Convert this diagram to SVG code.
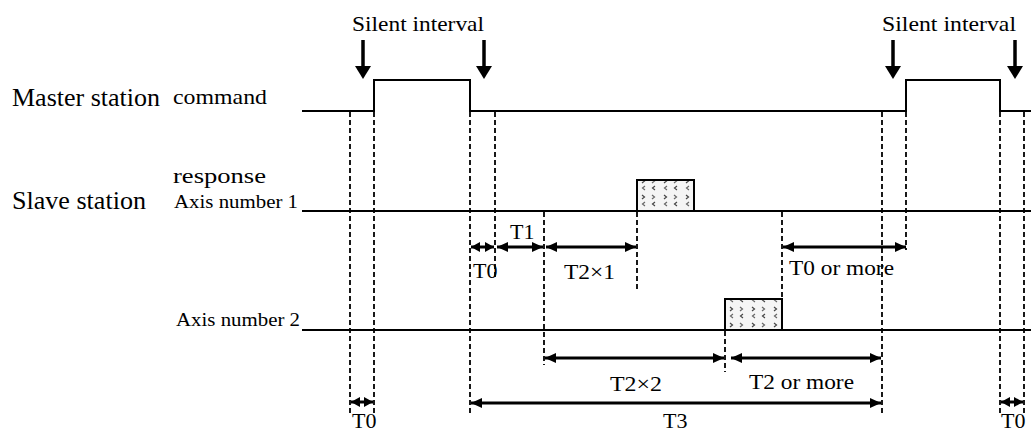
<svg xmlns="http://www.w3.org/2000/svg" width="1031" height="433" viewBox="0 0 1031 433">
<style>
  text { font-family: "Liberation Serif", "Times New Roman", serif; fill: #000; }
  .big { font-size: 25px; }
  .mid { font-size: 22px; }
  .ax { font-size: 19px; }
  .lbl { font-size: 22px; }
  .sig { stroke: #000; stroke-width: 2; fill: none; }
  .dash { stroke: #000; stroke-width: 1.8; stroke-dasharray: 5 3; fill: none; }
  .dim { stroke: #000; stroke-width: 3; fill: none; marker-start: url(#ah); marker-end: url(#ah); }
  .dims { stroke: #000; stroke-width: 3; fill: none; marker-start: url(#ahs); marker-end: url(#ahs); }
  .down { stroke: #000; stroke-width: 3.5; fill: none; }
</style>
<defs>
  <marker id="ah" markerUnits="userSpaceOnUse" markerWidth="11" markerHeight="10" refX="11" refY="5" orient="auto-start-reverse">
    <path d="M0,0 L11,5 L0,10 z" fill="#000"/>
  </marker>
  <marker id="ahs" markerUnits="userSpaceOnUse" markerWidth="9" markerHeight="10" refX="9" refY="5" orient="auto-start-reverse">
    <path d="M0,0 L9,5 L0,10 z" fill="#000"/>
  </marker>
  <pattern id="dots" patternUnits="userSpaceOnUse" width="22" height="16">
    <rect width="22" height="16" fill="#f5f5f5"/>
    <path d="M4,3 l2.5,2 l-2.5,2" stroke="#444" stroke-width="1.2" fill="none"/>
    <path d="M17,10 l-2.5,2 l2.5,2" stroke="#444" stroke-width="1.2" fill="none"/>
    <path d="M14,3 l2.5,2 l-2.5,2" stroke="#666" stroke-width="1.2" fill="none"/>
    <path d="M7,10 l-2.5,2 l2.5,2" stroke="#666" stroke-width="1.2" fill="none"/>
  </pattern>
</defs>

<g id="labels">
  <text class="big" x="12" y="106" textLength="148" lengthAdjust="spacingAndGlyphs">Master station</text>
  <text class="mid" x="173" y="104" textLength="94" lengthAdjust="spacingAndGlyphs">command</text>
  <text class="mid" x="173" y="183" textLength="93" lengthAdjust="spacingAndGlyphs">response</text>
  <text class="big" x="12" y="209" textLength="134" lengthAdjust="spacingAndGlyphs">Slave station</text>
  <text class="ax" x="174" y="208" textLength="124" lengthAdjust="spacingAndGlyphs">Axis number 1</text>
  <text class="ax" x="176" y="326" textLength="124" lengthAdjust="spacingAndGlyphs">Axis number 2</text>
</g>

<g id="silent-1">
  <text class="mid" x="352" y="31" textLength="132" lengthAdjust="spacingAndGlyphs">Silent interval</text>
  <line class="down" x1="363" y1="40" x2="363" y2="68"/>
  <path d="M355,66 L371,66 L363,79 z" fill="#000"/>
  <line class="down" x1="484" y1="40" x2="484" y2="68"/>
  <path d="M476,66 L492,66 L484,79 z" fill="#000"/>
</g>
<g id="silent-2">
  <text class="mid" x="882" y="31" textLength="134" lengthAdjust="spacingAndGlyphs">Silent interval</text>
  <line class="down" x1="893" y1="40" x2="893" y2="68"/>
  <path d="M885,66 L901,66 L893,79 z" fill="#000"/>
  <line class="down" x1="1015" y1="40" x2="1015" y2="68"/>
  <path d="M1007,66 L1023,66 L1015,79 z" fill="#000"/>
</g>

<g id="master-signal">
  <path class="sig" d="M302,111 H374 V80 H470 V111 H906 V80 H1000 V111 H1031"/>
</g>
<g id="axis1-signal">
  <line class="sig" x1="302" y1="211" x2="1031" y2="211"/>
  <rect x="637" y="180" width="57" height="31" fill="url(#dots)" stroke="#000" stroke-width="2"/>
</g>
<g id="axis2-signal">
  <line class="sig" x1="302" y1="330" x2="1031" y2="330"/>
  <rect x="725" y="299" width="57" height="31" fill="url(#dots)" stroke="#000" stroke-width="2"/>
</g>

<g id="guides">
  <line class="dash" x1="350" y1="112" x2="350" y2="413"/>
  <line class="dash" x1="374" y1="112" x2="374" y2="413"/>
  <line class="dash" x1="470" y1="112" x2="470" y2="414"/>
  <line class="dash" x1="495" y1="112" x2="495" y2="280"/>
  <line class="dash" x1="544" y1="212" x2="544" y2="365"/>
  <line class="dash" x1="637" y1="212" x2="637" y2="290"/>
  <line class="dash" x1="782" y1="212" x2="782" y2="298"/>
  <line class="dash" x1="725" y1="331" x2="725" y2="372"/>
  <line class="dash" x1="882" y1="112" x2="882" y2="416"/>
  <line class="dash" x1="906" y1="112" x2="906" y2="250"/>
  <line class="dash" x1="1000" y1="112" x2="1000" y2="413"/>
  <line class="dash" x1="1024" y1="112" x2="1024" y2="413"/>
</g>

<g id="connectors">
  <line class="dims" x1="471" y1="247" x2="494" y2="247"/>
  <line class="dim" x1="497" y1="247" x2="543" y2="247"/>
  <line class="dim" x1="546" y1="247" x2="636" y2="247"/>
  <line class="dim" x1="783" y1="247" x2="906" y2="247"/>
  <line class="dim" x1="545" y1="358" x2="724" y2="358"/>
  <line class="dim" x1="731" y1="358" x2="881" y2="358"/>
  <line class="dim" x1="471" y1="403" x2="881" y2="403"/>
  <line class="dims" x1="351" y1="402" x2="373" y2="402"/>
  <line class="dims" x1="1001" y1="402" x2="1023" y2="402"/>
</g>

<g id="dim-labels">
  <text class="lbl" x="473" y="278">T0</text>
  <text class="lbl" x="510" y="239">T1</text>
  <text class="lbl" x="564" y="279" textLength="51" lengthAdjust="spacingAndGlyphs">T2×1</text>
  <text class="lbl" x="789" y="275" textLength="105" lengthAdjust="spacingAndGlyphs">T0 or more</text>
  <text class="lbl" x="610" y="391" textLength="52" lengthAdjust="spacingAndGlyphs">T2×2</text>
  <text class="lbl" x="749" y="389" textLength="105" lengthAdjust="spacingAndGlyphs">T2 or more</text>
  <text class="lbl" x="663" y="428">T3</text>
  <text class="lbl" x="352" y="428">T0</text>
  <text class="lbl" x="1001" y="428">T0</text>
</g>
</svg>
